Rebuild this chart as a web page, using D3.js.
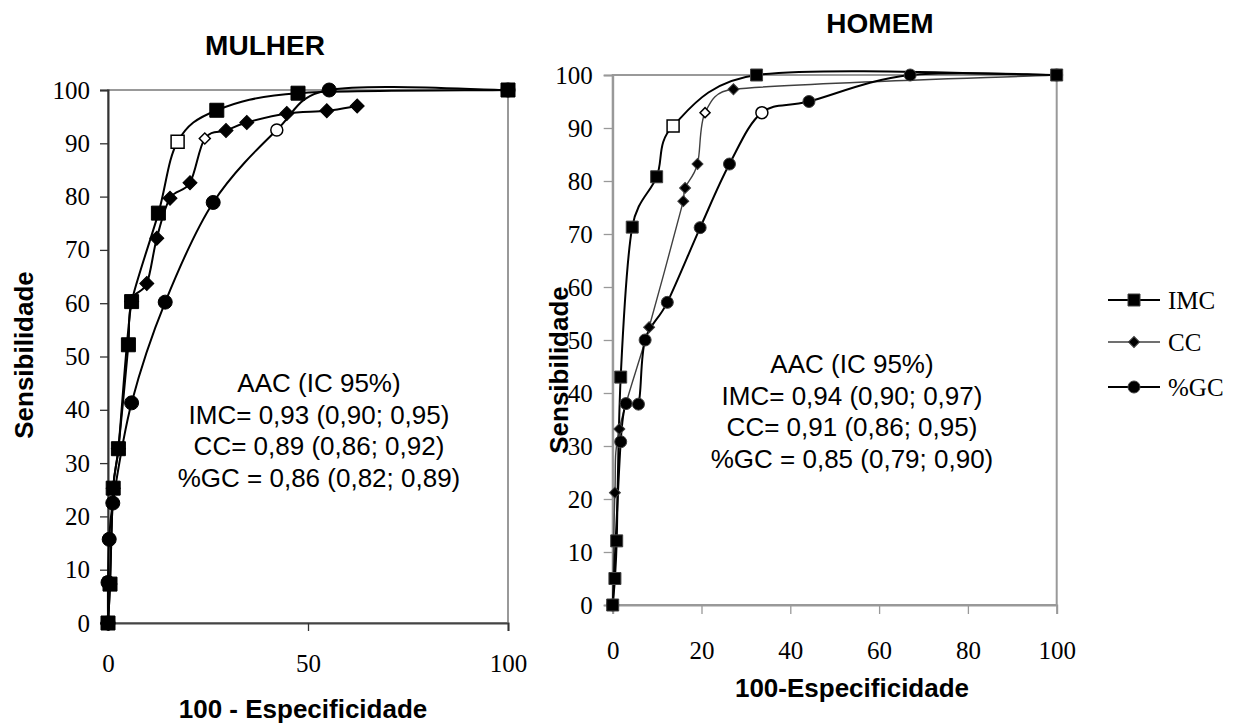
<!DOCTYPE html>
<meta charset="utf-8">
<title>Curvas ROC - IMC, CC e %GC</title>
<style>
    body {
        margin: 0;
        background-color: #fff;
    }

    svg {
        display: block;
    }

    .titulo {
        font: bold 28px "Liberation Sans", Arial, sans-serif;
        text-anchor: middle;
    }

    .eixo-titulo {
        font: bold 26px "Liberation Sans", Arial, sans-serif;
        text-anchor: middle;
    }

    .anotacao {
        font: 26px "Liberation Sans", Arial, sans-serif;
        text-anchor: middle;
    }

    .tick text,
    .legenda text {
        font: 25px "Liberation Serif", "Times New Roman", serif;
        fill: #000;
    }
</style>
<svg width="1244" height="724"></svg>
<script src="https://cdn.jsdelivr.net/npm/d3@7"></script>
<script>
    // pontos [100 - especificidade, sensibilidade]
    var mulherIMC = [[0, 0], [0.5, 7.3], [1.3, 25.3], [2.6, 32.7], [5.1, 52.2], [5.9, 60.3], [12.6, 76.9], [17.4, 90.3], [27.2, 96.2], [47.5, 99.4], [100, 100]];
    var mulherCC = [[0, 0], [0.5, 7.3], [1.3, 25.3], [2.6, 32.7], [5.9, 60.3], [9.7, 63.7], [12.2, 72.2], [15.5, 79.7], [20.5, 82.6], [24.2, 90.9], [29.5, 92.4], [34.7, 93.9], [44.7, 95.6], [54.7, 96.1], [62.3, 97]];
    var mulherGC = [[0, 0], [0, 7.6], [0.3, 15.7], [1.2, 22.5], [5.9, 41.3], [14.3, 60.2], [26.3, 78.9], [42.2, 92.5], [55.3, 100], [100, 100]];
    // indice do ponto de corte (marcador vazado)
    var mulherCorte = [7, 9, 7];

    var homemIMC = [[0, 0], [0.5, 5], [0.9, 12.1], [1.8, 43], [4.4, 71.3], [9.9, 80.8], [13.6, 90.4], [32.4, 100], [100, 100]];
    var homemCC = [[0, 0], [0.5, 21.2], [1.5, 33.2], [8.2, 52.4], [15.9, 76.2], [16.3, 78.7], [19.1, 83.2], [20.8, 92.9], [27.2, 97.3], [100, 100]];
    var homemGC = [[0, 0], [1.8, 30.8], [3, 38], [5.8, 37.9], [7.3, 50], [12.3, 57.1], [19.7, 71.2], [26.3, 83.2], [33.6, 92.9], [44.2, 95], [67, 100], [100, 100]];
    var homemCorte = [6, 7, 8];

    var series = ["IMC", "CC", "%GC"];
    var ticksY = [0, 10, 20, 30, 40, 50, 60, 70, 80, 90, 100];
    var ticksXMulher = [0, 50, 100];
    var ticksXHomem = [0, 20, 40, 60, 80, 100];

    var mulherAAC = ["AAC (IC 95%)", "IMC= 0,93 (0,90; 0,95)", "CC= 0,89 (0,86; 0,92)", "%GC = 0,86 (0,82; 0,89)"];
    var homemAAC = ["AAC (IC 95%)", "IMC= 0,94 (0,90; 0,97)", "CC= 0,91 (0,86; 0,95)", "%GC = 0,85 (0,79; 0,90)"];

    var svg = d3.select("svg");

    function simbolo(tipo, lado) {
        if (tipo == "IMC")
            return d3.symbol().type(d3.symbolSquare).size(lado * lado)();
        else if (tipo == "CC")
            return d3.symbol().type(d3.symbolSquare).size(lado * lado / 2)(); // girado 45 graus
        else
            return d3.symbol().type(d3.symbolCircle).size(Math.PI * lado * lado / 4)();
    }

    function marcador(g, tipo, px, py, lado, aberto, borda) {
        g.append("path")
            .attr("d", simbolo(tipo, lado))
            .attr("transform", "translate(" + px + "," + py + ")" + (tipo == "CC" ? " rotate(45)" : ""))
            .attr("fill", aberto ? "#fff" : "#000")
            .attr("stroke", aberto ? "#000" : borda)
            .attr("stroke-width", aberto ? 1.5 : 1);
    }

    function limita(v, max) {
        var n = Math.hypot(v[0], v[1]);
        return n > max ? [v[0] * max / n, v[1] * max / n] : v;
    }

    // linha suavizada parecida com a do Excel: Catmull-Rom com a tangente
    // limitada a metade do segmento, para nao fazer lacos
    function curvaSuave(pts) {
        var p = d3.path();
        p.moveTo(pts[0][0], pts[0][1]);
        for (var i = 0; i < pts.length - 1; i++) {
            var a = pts[i], b = pts[i + 1];
            var p0 = pts[i - 1] || a, p3 = pts[i + 2] || b;
            var L = Math.hypot(b[0] - a[0], b[1] - a[1]);
            var t1 = limita([(b[0] - p0[0]) / 6, (b[1] - p0[1]) / 6], L / 2);
            var t2 = limita([(p3[0] - a[0]) / 6, (p3[1] - a[1]) / 6], L / 2);
            p.bezierCurveTo(a[0] + t1[0], a[1] + t1[1], b[0] - t2[0], b[1] - t2[1], b[0], b[1]);
        }
        return p.toString();
    }

    function grafico(cfg) {
        var x = d3.scaleLinear().domain([0, 100]).range(cfg.rx);
        var y = d3.scaleLinear().domain([0, 100]).range(cfg.ry);
        var g = svg.append("g");

        // moldura da area de plotagem
        g.append("rect")
            .attr("x", cfg.rx[0]).attr("y", cfg.ry[1])
            .attr("width", cfg.rx[1] - cfg.rx[0]).attr("height", cfg.ry[0] - cfg.ry[1])
            .attr("fill", "none").attr("stroke", "#999").attr("stroke-width", 2);

        var eixoY = g.append("g")
            .attr("transform", "translate(" + cfg.rx[0] + ",0)")
            .call(d3.axisLeft(y).tickValues(ticksY).tickSize(cfg.tick).tickPadding(cfg.padY).tickFormat(d3.format("d")));
        var eixoX = g.append("g")
            .attr("transform", "translate(0," + cfg.ry[0] + ")")
            .call(d3.axisBottom(x).tickValues(cfg.ticksX).tickSize(cfg.tick).tickFormat(d3.format("d")));

        eixoY.select(".domain").attr("stroke", cfg.corEixoY).attr("stroke-width", 2);
        eixoX.select(".domain").attr("stroke", cfg.corEixoX).attr("stroke-width", 2);
        g.selectAll(".tick line").attr("stroke", cfg.corTick).attr("stroke-width", 1.3);
        eixoX.selectAll(".tick text").attr("y", cfg.baseX).attr("dy", 0);

        cfg.dados.forEach(function (serie, i) {
            var pts = serie.map(function (d) { return [x(d[0]), y(d[1])]; });
            g.append("path")
                .attr("d", curvaSuave(pts))
                .attr("fill", "none")
                .attr("stroke", cfg.linhas[i].cor)
                .attr("stroke-width", cfg.linhas[i].largura)
                .attr("stroke-linejoin", "round");
        });

        // marcadores: %GC, CC e por cima IMC
        [2, 1, 0].forEach(function (i) {
            cfg.dados[i].forEach(function (d, j) {
                var aberto = j == cfg.corte[i];
                var lado = aberto ? cfg.ladoAberto[i] : cfg.lado[i];
                marcador(g, series[i], x(d[0]), y(d[1]), lado, aberto, cfg.borda);
            });
        });

        g.append("text").attr("class", "titulo")
            .attr("x", cfg.titulo[1]).attr("y", cfg.titulo[2]).text(cfg.titulo[0]);
        g.append("text").attr("class", "eixo-titulo")
            .attr("x", cfg.tituloX[1]).attr("y", cfg.tituloX[2]).text(cfg.tituloX[0]);
        g.append("text").attr("class", "eixo-titulo")
            .attr("transform", "translate(" + cfg.tituloY[0] + "," + cfg.tituloY[1] + ") rotate(-90)")
            .text("Sensibilidade");

        g.append("text").attr("class", "anotacao")
            .selectAll("tspan")
            .data(cfg.aac)
            .enter().append("tspan")
            .attr("x", cfg.anot[0])
            .attr("y", function (d, i) { return cfg.anot[1] + i * 31.5; })
            .text(function (d) { return d; });
    }

    grafico({
        rx: [108, 508], ry: [623, 90],
        ticksX: ticksXMulher, tick: 8, padY: 10, baseX: 49,
        corEixoY: "#333", corEixoX: "#444", corTick: "#333",
        dados: [mulherIMC, mulherCC, mulherGC], corte: mulherCorte,
        linhas: [{ cor: "#000", largura: 2 }, { cor: "#000", largura: 2 }, { cor: "#000", largura: 2 }],
        lado: [14, 14, 14], ladoAberto: [13, 11, 12], borda: "#000",
        titulo: ["MULHER", 265, 55],
        tituloX: ["100 - Especificidade", 303, 718],
        tituloY: [33, 355],
        aac: mulherAAC, anot: [319, 392]
    });

    grafico({
        rx: [612.7, 1056.7], ry: [605, 75],
        ticksX: ticksXHomem, tick: 9, padY: 11, baseX: 54,
        corEixoY: "#999", corEixoX: "#999", corTick: "#999",
        dados: [homemIMC, homemCC, homemGC], corte: homemCorte,
        linhas: [{ cor: "#000", largura: 2 }, { cor: "#404040", largura: 1.4 }, { cor: "#000", largura: 2 }],
        lado: [12, 11, 12], ladoAberto: [12, 10, 12], borda: "#404040",
        titulo: ["HOMEM", 880, 33],
        tituloX: ["100-Especificidade", 852, 697],
        tituloY: [568, 370],
        aac: homemAAC, anot: [852, 373]
    });

    // legenda
    var legendaY = [300, 342, 387];
    var legendaLinha = [{ cor: "#000", largura: 2 }, { cor: "#404040", largura: 1.4 }, { cor: "#000", largura: 2 }];
    var legenda = svg.append("g").attr("class", "legenda");
    series.forEach(function (s, i) {
        legenda.append("line")
            .attr("x1", 1108).attr("x2", 1160)
            .attr("y1", legendaY[i]).attr("y2", legendaY[i])
            .attr("stroke", legendaLinha[i].cor).attr("stroke-width", legendaLinha[i].largura);
        marcador(legenda, s, 1134, legendaY[i], i == 1 ? 11 : 12, false, "#404040");
        legenda.append("text")
            .attr("x", 1168).attr("y", legendaY[i] + 9)
            .text(s);
    });
</script>
